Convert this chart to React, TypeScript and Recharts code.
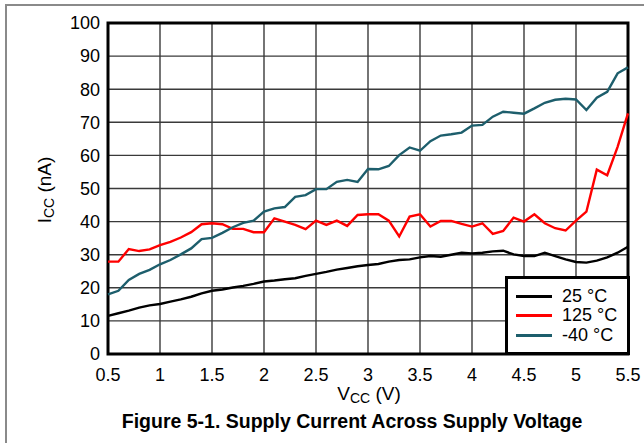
import React from "react"
import {
  LineChart, Line, XAxis, YAxis, CartesianGrid, ReferenceArea,
} from "recharts"

// Supply voltage (V), sampled every 0.1 V
const vcc = [
  0.5, 0.6, 0.7, 0.8, 0.9, 1.0, 1.1, 1.2, 1.3, 1.4,
  1.5, 1.6, 1.7, 1.8, 1.9, 2.0, 2.1, 2.2, 2.3, 2.4,
  2.5, 2.6, 2.7, 2.8, 2.9, 3.0, 3.1, 3.2, 3.3, 3.4,
  3.5, 3.6, 3.7, 3.8, 3.9, 4.0, 4.1, 4.2, 4.3, 4.4,
  4.5, 4.6, 4.7, 4.8, 4.9, 5.0, 5.1, 5.2, 5.3, 5.4, 5.5,
]

// I_CC (nA) at 25 °C
const icc25 = [
  11.5, 12.3, 13.1, 14.0, 14.7, 15.1, 15.8, 16.5, 17.3, 18.3,
  19.1, 19.5, 20.1, 20.6, 21.2, 21.9, 22.2, 22.6, 22.9, 23.6,
  24.2, 24.8, 25.5, 26.0, 26.5, 26.9, 27.2, 27.9, 28.4, 28.6,
  29.2, 29.6, 29.4, 30.0, 30.6, 30.4, 30.6, 31.0, 31.2, 30.1,
  29.6, 29.6, 30.6, 29.6, 28.6, 27.8, 27.6, 28.2, 29.2, 30.6, 32.4,
]

// I_CC (nA) at 125 °C
const icc125 = [
  27.9, 27.9, 31.7, 31.1, 31.6, 32.9, 33.9, 35.2, 36.8, 39.2,
  39.5, 39.2, 37.8, 37.8, 36.8, 36.8, 41.0, 40.0, 39.0, 37.7,
  40.3, 39.0, 40.3, 38.7, 42.0, 42.2, 42.2, 40.3, 35.5, 41.5,
  42.2, 38.5, 40.2, 40.2, 39.3, 38.5, 39.5, 36.3, 37.2, 41.2,
  40.0, 42.2, 39.5, 38.0, 37.3, 40.3, 43.0, 55.7, 54.0, 62.6, 72.7,
]

// I_CC (nA) at -40 °C
const iccMinus40 = [
  18.0, 19.1, 22.4, 24.2, 25.4, 27.1, 28.4, 30.1, 31.9, 34.7,
  35.1, 36.6, 38.3, 39.6, 40.3, 43.0, 44.0, 44.4, 47.5, 48.0,
  49.8, 49.8, 52.0, 52.6, 52.0, 55.9, 55.8, 56.8, 60.1, 62.4,
  61.4, 64.3, 66.0, 66.4, 66.9, 69.0, 69.2, 71.7, 73.2, 72.9,
  72.6, 74.2, 75.9, 76.8, 77.1, 76.9, 73.7, 77.4, 79.2, 84.8, 86.6,
]

const xTicks = [0.5, 1, 1.5, 2, 2.5, 3, 3.5, 4, 4.5, 5, 5.5]
const yTicks = [0, 10, 20, 30, 40, 50, 60, 70, 80, 90, 100]

const series = [
  { key: "t25", name: "25 °C", color: "#000000" },
  { key: "t125", name: "125 °C", color: "#ff0000" },
  { key: "tm40", name: "-40 °C", color: "#1d5e6c" },
]

const data = vcc.map((v, i) => ({ v, t25: icc25[i], t125: icc125[i], tm40: iccMinus40[i] }))

const FONT = "'Liberation Sans', Arial, sans-serif"
const tick = { fontSize: 18, fill: "#000", fontFamily: FONT }

export default function App() {
  return (
    <div style={{ position: "absolute", left: 0, top: 0, width: 644, height: 443, background: "#fff", fontFamily: FONT, overflow: "hidden" }}>
      {/* outer frame */}
      <div style={{ position: "absolute", left: 5, top: 4, width: 660, height: 460, borderLeft: "2px solid #8a8a8a", borderTop: "2px solid #8a8a8a" }} />
      <div style={{ position: "absolute", left: 0, top: 0 }}>
        <LineChart width={644} height={443} data={data} margin={{ top: 23, right: 16, bottom: 59, left: 48 }}>
          <CartesianGrid stroke="#3a3a3a" strokeWidth={1.4} />
          <XAxis dataKey="v" type="number" domain={[0.5, 5.5]} ticks={xTicks} tick={tick}
            tickLine={false} axisLine={false} tickSize={0} tickMargin={14} height={30} />
          <YAxis type="number" domain={[0, 100]} ticks={yTicks} tick={tick}
            tickLine={false} axisLine={false} tickSize={0} tickMargin={8} width={60} />
          {series.map((s) => (
            <Line key={s.key} type="linear" dataKey={s.key} name={s.name} stroke={s.color}
              strokeWidth={2.4} dot={false} isAnimationActive={false} />
          ))}
          <ReferenceArea x1={0.5} x2={5.5} y1={0} y2={100} fill="none" stroke="#000" strokeWidth={3} ifOverflow="visible" />
        </LineChart>
      </div>
      {/* legend */}
      <div style={{
        position: "absolute", left: 505, top: 276, width: 125, height: 79, boxSizing: "border-box",
        background: "#fff", border: "3px solid #000", paddingTop: 8, fontSize: 18, color: "#000",
      }}>
        {series.map((s) => (
          <div key={s.key} style={{ display: "flex", alignItems: "center", height: 19.3 }}>
            <div style={{ marginLeft: 8, width: 36, height: 3, background: s.color }} />
            <span style={{ marginLeft: 10, lineHeight: "19px" }}>{s.name}</span>
          </div>
        ))}
      </div>
      <div style={{ position: "absolute", left: 369, top: 394, transform: "translate(-50%, -50%)", fontSize: 19, whiteSpace: "nowrap" }}>
        V<span style={{ fontSize: 14, verticalAlign: -3 }}>CC</span> (V)
      </div>
      <div style={{ position: "absolute", left: 45, top: 190, transform: "translate(-50%, -50%) rotate(-90deg)", fontSize: 19, whiteSpace: "nowrap" }}>
        I<span style={{ fontSize: 14, verticalAlign: -3 }}>CC</span> (nA)
      </div>
      <div style={{ position: "absolute", left: 352, top: 421, transform: "translate(-50%, -50%)", fontSize: 19.5, fontWeight: "bold", whiteSpace: "nowrap" }}>
        Figure 5-1. Supply Current Across Supply Voltage
      </div>
    </div>
  )
}
